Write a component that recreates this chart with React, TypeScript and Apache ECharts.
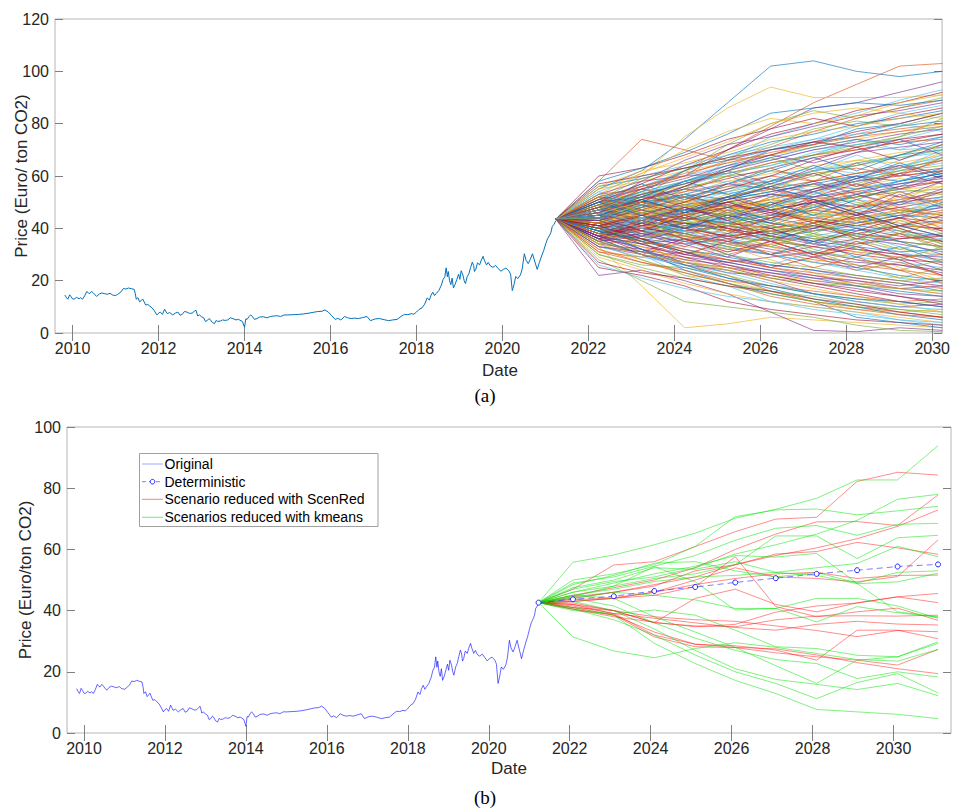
import React, { useEffect, useRef } from 'react';
import * as echarts from 'echarts';

// ---------- Data ----------
const X_TICKS = [2010, 2012, 2014, 2016, 2018, 2020, 2022, 2024, 2026, 2028, 2030];

// Historical price [decimal year, EUR/t]
const HIST: [number, number][] = [
  [2009.82, 14.5], [2009.86, 13.4], [2009.89, 12.9], [2009.93, 14.6], [2009.96, 14.0], [2010.0, 13.0],
  [2010.03, 12.9], [2010.09, 13.6], [2010.15, 13.1], [2010.19, 13.5], [2010.23, 12.9], [2010.28, 14.2],
  [2010.33, 15.9], [2010.37, 15.2], [2010.4, 15.1], [2010.44, 15.9], [2010.48, 15.3], [2010.52, 14.6],
  [2010.56, 14.0], [2010.62, 14.9], [2010.68, 15.3], [2010.75, 15.0], [2010.81, 14.8], [2010.87, 15.2],
  [2010.93, 14.5], [2011.0, 14.3], [2011.05, 14.8], [2011.12, 15.6], [2011.18, 17.0], [2011.24, 16.8],
  [2011.3, 17.2], [2011.37, 16.9], [2011.43, 16.7], [2011.46, 15.0], [2011.48, 12.9], [2011.52, 13.5],
  [2011.56, 11.9], [2011.59, 12.3], [2011.63, 13.0], [2011.7, 10.7], [2011.75, 10.9], [2011.8, 10.2],
  [2011.85, 9.6], [2011.9, 8.5], [2011.96, 6.9], [2012.0, 7.6], [2012.04, 8.0], [2012.09, 7.1],
  [2012.14, 9.1], [2012.2, 7.4], [2012.26, 7.8], [2012.33, 6.9], [2012.39, 7.6], [2012.45, 8.0],
  [2012.5, 6.8], [2012.55, 7.1], [2012.6, 8.2], [2012.66, 8.0], [2012.72, 7.5], [2012.78, 7.6],
  [2012.83, 8.3], [2012.87, 8.7], [2012.91, 6.5], [2012.95, 6.9], [2013.0, 6.2], [2013.05, 5.8],
  [2013.09, 4.4], [2013.13, 4.7], [2013.17, 5.5], [2013.2, 5.2], [2013.25, 4.0], [2013.3, 3.6],
  [2013.34, 4.8], [2013.38, 4.4], [2013.44, 4.6], [2013.49, 5.0], [2013.55, 4.8], [2013.61, 5.0],
  [2013.67, 5.8], [2013.73, 5.5], [2013.8, 5.0], [2013.86, 5.2], [2013.95, 4.4], [2014.0, 2.2],
  [2014.03, 5.4], [2014.06, 5.2], [2014.1, 6.2], [2014.14, 6.9], [2014.18, 6.4], [2014.23, 5.2],
  [2014.29, 5.5], [2014.35, 6.1], [2014.44, 6.2], [2014.52, 5.8], [2014.6, 6.3], [2014.68, 6.5],
  [2014.76, 6.6], [2014.84, 6.3], [2014.92, 6.9], [2015.01, 6.9], [2015.13, 7.0], [2015.26, 7.1],
  [2015.38, 7.3], [2015.5, 7.6], [2015.6, 7.9], [2015.7, 8.2], [2015.8, 8.3], [2015.87, 8.8],
  [2015.95, 8.0], [2016.03, 6.6], [2016.11, 5.2], [2016.17, 5.6], [2016.24, 5.0], [2016.33, 6.3],
  [2016.4, 5.8], [2016.48, 5.5], [2016.56, 5.7], [2016.65, 5.5], [2016.75, 5.9], [2016.85, 6.3],
  [2016.93, 4.7], [2017.04, 5.4], [2017.14, 5.5], [2017.25, 5.1], [2017.35, 4.7], [2017.45, 5.0],
  [2017.55, 5.2], [2017.64, 6.3], [2017.72, 7.1], [2017.8, 7.0], [2017.88, 7.4], [2017.94, 7.2],
  [2018.0, 8.0], [2018.06, 9.0], [2018.13, 9.6], [2018.19, 11.0], [2018.25, 13.4], [2018.3, 12.6],
  [2018.34, 14.5], [2018.38, 15.6], [2018.42, 14.3], [2018.46, 15.1], [2018.52, 16.2], [2018.58, 18.3],
  [2018.62, 20.5], [2018.66, 21.5], [2018.69, 24.9], [2018.72, 21.5], [2018.74, 23.5], [2018.77, 20.0],
  [2018.8, 18.5], [2018.83, 21.0], [2018.86, 17.2], [2018.9, 18.6], [2018.94, 20.5], [2018.98, 22.5],
  [2019.01, 20.5], [2019.04, 23.8], [2019.08, 22.2], [2019.11, 20.0], [2019.14, 18.9], [2019.18, 21.5],
  [2019.22, 22.7], [2019.26, 25.0], [2019.3, 27.1], [2019.33, 25.8], [2019.35, 23.5], [2019.38, 24.3],
  [2019.42, 26.8], [2019.47, 26.0], [2019.5, 27.5], [2019.55, 29.3], [2019.58, 27.8], [2019.63, 26.0],
  [2019.67, 27.0], [2019.72, 25.6], [2019.78, 25.1], [2019.84, 25.8], [2019.9, 24.7], [2019.96, 23.6],
  [2020.02, 24.3], [2020.08, 24.8], [2020.15, 23.8], [2020.19, 22.5], [2020.23, 16.2], [2020.27, 18.5],
  [2020.31, 21.6], [2020.36, 20.8], [2020.42, 22.2], [2020.46, 24.5], [2020.51, 30.3], [2020.55, 27.8],
  [2020.6, 26.5], [2020.65, 28.2], [2020.7, 30.3], [2020.75, 27.5], [2020.81, 24.3], [2020.86, 27.0],
  [2020.92, 29.8], [2020.96, 31.5], [2021.01, 34.2], [2021.05, 36.0], [2021.1, 37.4], [2021.13, 38.5],
  [2021.16, 40.7], [2021.2, 41.5], [2021.24, 42.9],
];

// (a) simulated scenarios: yearly steps
const TOP_STEPS = [2021.24, 2022.24, 2023.24, 2024.24, 2025.24, 2026.24, 2027.24, 2028.24, 2029.24, 2030.24];
const TOP_START = 43.5;
const TOP_PATHS: number[][] = [
  [55, 62, 74, 88, 102, 104, 100, 98, 100], [50, 55, 62, 70, 79, 88, 95, 102, 103], [52, 60, 75, 86, 94, 90, 90, 90, 91],
  [48, 58, 60, 70, 78, 86, 88, 92, 96], [46, 52, 62, 72, 80, 85, 82, 86, 90], [42, 48, 55, 66, 75, 80, 84, 89, 93],
  [60, 63, 68, 74, 78, 82, 79, 83, 86], [44, 50, 58, 62, 70, 72, 78, 80, 84], [58, 74, 70, 66, 68, 72, 76, 78, 80],
  [33, 18, 2, 3.5, 6, 5, 4, 3, 2], [22, 24, 20, 15, 8, 1, 0.5, 2, 1], [28, 20, 12, 10, 8, 6, 3, 1, 0.5],
  [35, 30, 22, 18, 12, 10, 8, 5, 3], [25, 22, 18, 12, 9, 7, 5, 4, 3], [38, 32, 24, 19, 15, 12, 6, 4, 2],
  [40, 35, 26, 22, 16, 12, 10, 8, 6], [32, 28, 22, 20, 16, 12, 9, 8, 9], [36, 30, 26, 24, 20, 15, 12, 10, 11],
  [30, 26, 25, 22, 18, 15, 13, 11, 12], [45, 48, 50, 52, 55, 58, 60, 63, 66], [42, 44, 46, 48, 47, 50, 52, 55, 58],
  [47, 52, 55, 53, 57, 62, 64, 68, 70], [40, 38, 37, 35, 33, 30, 32, 30, 28], [44, 42, 45, 47, 50, 48, 46, 49, 51],
  [38, 36, 34, 36, 38, 40, 37, 35, 33], [50, 54, 58, 60, 62, 60, 65, 68, 72], [41, 45, 42, 40, 43, 45, 47, 44, 46],
  [46, 50, 48, 52, 56, 54, 58, 60, 62], [39, 41, 43, 45, 42, 40, 43, 46, 48], [43, 40, 38, 34, 31, 28, 26, 24, 22],
  [48, 46, 50, 55, 58, 62, 66, 65, 68], [36, 33, 30, 28, 26, 24, 22, 20, 18], [45, 47, 44, 42, 45, 48, 52, 54, 55],
  [52, 56, 60, 64, 66, 70, 72, 74, 78], [37, 40, 42, 40, 37, 35, 38, 41, 40], [44, 46, 49, 51, 54, 57, 55, 58, 61],
  [41, 39, 36, 38, 40, 42, 44, 42, 39], [49, 52, 50, 47, 44, 46, 49, 51, 53], [35, 38, 40, 43, 46, 44, 42, 45, 48],
  [46, 44, 42, 44, 41, 38, 36, 38, 35], [42, 47, 52, 56, 60, 63, 61, 64, 67], [47, 43, 40, 37, 35, 33, 30, 28, 27],
  [40, 43, 46, 50, 53, 52, 55, 57, 60], [53, 55, 52, 56, 58, 61, 63, 60, 62], [38, 35, 33, 31, 34, 37, 35, 32, 30],
  [45, 49, 53, 57, 55, 52, 54, 57, 59], [43, 45, 48, 46, 49, 52, 50, 47, 45], [39, 42, 39, 36, 33, 31, 29, 27, 25],
  [48, 51, 55, 59, 63, 67, 70, 73, 76], [44, 41, 43, 46, 44, 41, 39, 41, 43], [41, 44, 47, 45, 48, 51, 54, 52, 50],
  [46, 48, 46, 43, 40, 42, 45, 43, 41], [34, 32, 29, 27, 29, 31, 28, 26, 24], [50, 48, 51, 54, 57, 56, 59, 62, 64],
  [42, 40, 41, 43, 45, 47, 49, 47, 49], [47, 50, 52, 49, 47, 50, 53, 56, 58], [37, 34, 36, 33, 30, 27, 25, 22, 20],
  [45, 43, 40, 42, 45, 43, 41, 44, 47], [43, 46, 44, 47, 50, 53, 56, 59, 57], [40, 37, 35, 37, 39, 36, 34, 36, 38],
  [49, 47, 45, 48, 51, 49, 52, 55, 53], [44, 48, 51, 54, 52, 55, 59, 62, 65], [38, 40, 38, 41, 44, 47, 45, 48, 51],
  [46, 42, 39, 41, 38, 35, 33, 31, 32], [42, 44, 42, 39, 41, 44, 46, 48, 46], [51, 53, 56, 58, 61, 64, 66, 69, 71],
  [36, 38, 35, 32, 30, 33, 36, 34, 31], [45, 46, 48, 50, 49, 46, 44, 46, 49], [41, 38, 40, 38, 35, 37, 40, 38, 36],
  [48, 50, 47, 50, 53, 51, 48, 50, 52], [39, 36, 32, 29, 26, 24, 21, 19, 16], [47, 51, 54, 57, 60, 58, 61, 63, 66],
  [43, 41, 44, 41, 43, 45, 43, 40, 42], [35, 37, 41, 44, 47, 50, 48, 51, 54], [50, 46, 44, 41, 39, 36, 38, 35, 33],
  [44, 47, 45, 42, 45, 48, 51, 49, 52], [40, 42, 45, 48, 51, 55, 58, 61, 63], [46, 44, 47, 45, 42, 39, 41, 39, 37],
  [42, 39, 37, 34, 36, 33, 31, 29, 30], [55, 58, 62, 65, 68, 71, 74, 77, 80], [33, 30, 27, 25, 23, 20, 18, 15, 14],
  [49, 53, 57, 61, 64, 68, 71, 75, 82], [45, 43, 46, 49, 47, 44, 47, 50, 48], [38, 41, 44, 42, 40, 43, 41, 44, 42],
  [56, 59, 63, 66, 70, 73, 75, 79, 81], [31, 29, 31, 28, 25, 22, 20, 17, 15], [43, 47, 50, 48, 51, 54, 57, 55, 56],
  [47, 45, 42, 40, 37, 34, 32, 30, 29], [40, 44, 48, 52, 56, 60, 64, 67, 70], [44, 40, 36, 33, 30, 27, 24, 21, 19],
  [51, 49, 46, 49, 46, 43, 40, 37, 35], [37, 39, 42, 39, 36, 39, 42, 45, 44], [48, 52, 49, 52, 55, 58, 61, 64, 61],
  [42, 45, 48, 51, 48, 45, 48, 51, 54], [45, 42, 38, 35, 32, 29, 27, 26, 23], [39, 35, 31, 30, 27, 25, 22, 20, 21],
  [46, 49, 52, 55, 58, 62, 65, 67, 69], [41, 43, 40, 37, 39, 41, 38, 36, 37], [52, 50, 53, 51, 54, 57, 60, 58, 61],
  [34, 36, 39, 41, 38, 41, 44, 47, 45], [47, 41, 49, 44, 52, 47, 55, 50, 58], [39, 45, 40, 47, 42, 50, 45, 53, 48],
  [44, 51, 46, 41, 48, 43, 37, 43, 38], [50, 44, 38, 44, 50, 45, 40, 46, 52], [36, 42, 48, 43, 37, 42, 48, 54, 49],
  [43, 37, 42, 36, 30, 35, 29, 33, 27], [48, 55, 50, 57, 63, 58, 65, 60, 67], [41, 47, 53, 48, 55, 61, 56, 63, 69],
  [45, 39, 34, 29, 35, 30, 25, 29, 24], [42, 48, 43, 38, 33, 38, 44, 39, 34], [54, 49, 56, 61, 55, 62, 68, 63, 70],
  [37, 31, 36, 30, 25, 29, 33, 28, 22], [46, 52, 58, 53, 48, 54, 49, 44, 50], [40, 46, 41, 36, 41, 47, 53, 48, 43],
  [49, 43, 48, 53, 47, 42, 36, 41, 46], [44, 50, 56, 62, 57, 63, 69, 74, 68], [38, 43, 37, 32, 37, 31, 26, 21, 25],
  [47, 42, 47, 52, 58, 53, 59, 54, 49], [42, 36, 30, 35, 40, 34, 39, 44, 39], [51, 57, 51, 57, 62, 67, 62, 68, 73],
  [35, 40, 45, 39, 44, 49, 43, 38, 43], [46, 40, 45, 39, 33, 27, 31, 25, 20], [43, 49, 44, 50, 46, 52, 57, 52, 58],
  [48, 43, 37, 42, 36, 41, 46, 40, 34], [39, 44, 49, 54, 59, 54, 60, 66, 71], [45, 50, 45, 40, 35, 30, 35, 30, 26],
  [41, 35, 40, 45, 50, 45, 51, 56, 62], [52, 47, 52, 46, 52, 57, 51, 46, 40], [38, 33, 28, 33, 28, 23, 18, 22, 17],
  [47, 53, 48, 43, 49, 55, 60, 55, 60], [43, 38, 43, 48, 43, 38, 33, 38, 32], [50, 56, 62, 57, 63, 68, 74, 70, 75],
  [36, 41, 36, 31, 35, 40, 45, 40, 35], [44, 48, 53, 48, 43, 48, 53, 58, 63], [48, 42, 36, 30, 34, 29, 24, 27, 22],
  [42, 47, 42, 46, 51, 46, 41, 46, 51], [46, 41, 46, 51, 56, 61, 56, 61, 57], [40, 34, 38, 33, 37, 32, 28, 24, 28],
  [53, 48, 53, 58, 53, 48, 53, 58, 63], [37, 42, 47, 52, 47, 42, 36, 41, 37], [45, 51, 46, 52, 58, 64, 59, 65, 60],
  [41, 46, 40, 35, 30, 25, 29, 24, 19], [49, 44, 49, 44, 39, 44, 49, 54, 49], [43, 38, 33, 38, 44, 50, 45, 50, 55],
  [47, 52, 57, 62, 67, 62, 57, 62, 67], [39, 44, 39, 34, 39, 34, 38, 33, 29], [44, 39, 45, 50, 45, 51, 46, 41, 45],
  [50, 45, 40, 45, 40, 35, 40, 35, 30], [42, 48, 54, 60, 55, 50, 55, 61, 66], [46, 50, 45, 49, 44, 39, 43, 47, 42],
  [38, 43, 48, 44, 49, 54, 59, 64, 59], [48, 54, 49, 44, 38, 42, 37, 32, 36], [44, 40, 35, 30, 26, 31, 36, 31, 27],
  [41, 45, 50, 55, 60, 66, 71, 66, 72], [47, 51, 46, 51, 56, 51, 46, 41, 37], [35, 30, 35, 40, 35, 30, 34, 38, 33],
  [52, 46, 51, 45, 49, 43, 47, 52, 56], [43, 47, 43, 48, 53, 58, 53, 49, 54], [40, 36, 41, 46, 41, 37, 32, 28, 33],
  [46, 42, 47, 42, 48, 53, 58, 63, 68],
  [50, 57, 64, 70, 76, 80, 85, 88, 92], [36, 30, 25, 21, 17, 13, 10, 7, 5], [47, 55, 60, 66, 71, 77, 82, 86, 89],
  [38, 33, 28, 24, 20, 17, 14, 11, 8], [53, 58, 66, 72, 75, 79, 83, 85, 88], [34, 28, 23, 19, 16, 14, 11, 9, 7],
  [45, 53, 58, 64, 70, 74, 79, 84, 87], [40, 34, 29, 25, 21, 18, 15, 12, 10], [49, 54, 62, 68, 73, 76, 80, 82, 85],
  [31, 27, 24, 20, 18, 16, 14, 12, 13], [55, 61, 67, 73, 80, 84, 86, 84, 82], [37, 32, 27, 23, 22, 19, 17, 14, 12],
  [51, 59, 63, 67, 72, 78, 81, 79, 83], [33, 29, 26, 23, 19, 15, 12, 10, 9], [46, 51, 56, 63, 68, 73, 77, 80, 84],
  [39, 35, 31, 27, 24, 21, 18, 16, 14], [52, 56, 61, 65, 69, 72, 75, 77, 79], [29, 24, 19, 15, 12, 10, 8, 6, 4],
  [48, 53, 57, 62, 66, 70, 73, 76, 78], [35, 31, 27, 24, 21, 19, 18, 17, 16], [54, 60, 64, 68, 71, 74, 76, 80, 77],
  [41, 36, 31, 26, 22, 19, 16, 14, 11], [50, 52, 58, 63, 67, 71, 74, 72, 75], [32, 27, 23, 19, 14, 11, 9, 7, 6],
  [56, 62, 65, 69, 74, 77, 79, 82, 84], [37, 34, 30, 27, 24, 22, 19, 17, 18], [44, 49, 55, 60, 65, 68, 72, 75, 79],
  [26, 21, 17, 14, 12, 9, 7, 5, 4], [57, 60, 63, 67, 70, 73, 71, 74, 76], [39, 32, 26, 21, 18, 15, 13, 12, 10],
  [49, 56, 60, 61, 65, 68, 70, 73, 74], [34, 30, 27, 25, 22, 20, 19, 17, 15], [51, 55, 59, 64, 68, 65, 69, 71, 73],
  [30, 25, 21, 18, 15, 12, 10, 9, 8], [47, 54, 58, 61, 64, 69, 72, 70, 71], [27, 23, 21, 18, 16, 13, 11, 8, 6],
  [58, 63, 69, 76, 84, 86, 88, 87, 89], [38, 35, 32, 28, 25, 23, 21, 19, 17], [53, 61, 70, 77, 82, 80, 83, 88, 91],
  [33, 31, 28, 26, 23, 21, 20, 18, 20],
];

// (b) reduced scenarios
const BOT_STEPS = [2021.23, 2022.08, 2023.09, 2024.09, 2025.1, 2026.09, 2027.09, 2028.1, 2029.1, 2030.1, 2031.1];
const BOT_START = 42.6;
const DETERMINISTIC = [42.6, 43.7, 44.7, 46.4, 47.7, 49.2, 50.6, 52.0, 53.2, 54.4, 55.1];
const KMEANS: number[][] = [
  [55.8, 58.2, 61.5, 65.3, 70.2, 73.1, 76.7, 82.7, 82.7, 93.9],
  [50, 52, 55, 61, 70.7, 72.9, 73.2, 71.3, 72.6, 74.1],
  [49, 51, 54.5, 58, 63, 66.9, 67.8, 64.6, 68.2, 68.5],
  [47, 49.5, 51, 54, 58.5, 61.5, 65, 69.5, 76.4, 78.0],
  [46, 48, 50.5, 52, 55, 64.4, 64.4, 57, 63.8, 64.6],
  [47.5, 50, 54, 53.5, 56, 52.5, 51.5, 48.8, 49.4, 52.2],
  [45, 47, 49.5, 51, 51.5, 52.5, 54, 55.4, 61, 57.6],
  [46, 49, 52, 54.5, 58, 57.5, 58.7, 48.9, 39.6, 38.0],
  [44.5, 48, 54.4, 49.4, 40.2, 40.7, 36.3, 41.3, 39.3, 37.8],
  [40, 39, 40.2, 38.5, 33.6, 28.2, 27.6, 25.4, 24.9, 29.3],
  [31.4, 26.8, 24.6, 27.6, 29.5, 28, 26, 24, 23.5, 27.3],
  [41, 38.5, 29.3, 22.7, 17.2, 12.9, 7.7, 6.9, 6.1, 4.7],
  [40.5, 37, 32, 25.5, 20, 16.2, 11.2, 16.5, 19.4, 13.1],
  [43, 40, 34, 27, 21, 17.5, 15.9, 14.2, 16.2, 12.2],
  [44, 41.5, 36, 31, 27, 24, 22.7, 17.8, 20, 18.3],
  [45, 44, 38, 33, 28, 22, 16.2, 23.8, 24.9, 29.8],
  [44, 46, 45, 43.5, 40.7, 40.7, 44, 44, 41.5, 37.5],
  [48.5, 51.5, 55.5, 56, 53, 51, 52.5, 49, 52.5, 53.0],
];
const SCENRED: number[][] = [
  [47, 54.9, 56, 60.9, 65.8, 69.9, 70.5, 82.2, 85.2, 84.3],
  [45, 47.5, 50, 54, 60, 65, 69, 69.1, 67.8, 77.8],
  [44, 46, 48.5, 51, 55, 58, 60.5, 63.5, 67.5, 72.9],
  [43, 44, 46, 50, 54, 51, 50.5, 49.4, 51.1, 63.1],
  [44.5, 46, 48, 53, 55, 58.5, 59.3, 62.3, 60.5, 58.4],
  [43, 44, 45, 47.8, 57.6, 41.3, 38.0, 39.6, 40.8, 36.8],
  [43.5, 44.2, 46, 48.5, 50.5, 52, 52.5, 50.5, 51.5, 51.6],
  [41, 40, 36.1, 44, 47, 42, 39.6, 42.5, 44.5, 45.6],
  [40.5, 38, 36.2, 34.7, 35.5, 39.5, 41.5, 42.5, 44.5, 42.6],
  [42.5, 40, 36, 35, 34.7, 37, 38.2, 38.3, 38.2, 38.5],
  [41.5, 39, 37.5, 36, 34.5, 33.6, 35.5, 36.5, 35.6, 35.3],
  [40.5, 38.5, 33, 29, 28.5, 27.1, 23.8, 33.6, 33.6, 30.8],
  [41, 38.6, 31.4, 28.2, 27.9, 26.2, 24.9, 23.8, 22.2, 27.3],
  [42, 39, 32, 29, 28, 27.5, 25.5, 23, 21, 19.4],
  [42, 40, 38, 37, 36.5, 35, 33.5, 31.5, 33.5, 33.1],
];

const MATLAB_COLORS = ['#0072BD', '#D95319', '#EDB120', '#7E2F8E', '#77AC30', '#4DBEEE', '#A2142F'];
const FONT = '"Liberation Sans", Arial, Helvetica, sans-serif';
const TXT = '#262626';

function xAxes(grid: number, min: number, max: number) {
  const base = {
    gridIndex: grid, type: 'value', min, max,
    axisLine: { show: false }, splitLine: { show: false },
    axisTick: { show: true, inside: true, length: 8, customValues: X_TICKS, lineStyle: { color: '#808080', width: 1 } },
  };
  return [
    { ...base, position: 'bottom',
      axisLabel: { show: true, customValues: X_TICKS, formatter: (v: number) => String(v), fontSize: 16, color: TXT, fontFamily: FONT, margin: 7 } },
    { ...base, position: 'top', axisLabel: { show: false } },
  ];
}
function yAxes(grid: number, max: number) {
  const base = {
    gridIndex: grid, type: 'value', min: 0, max, interval: 20,
    axisLine: { show: false }, splitLine: { show: false },
    axisTick: { show: true, inside: true, length: 8, lineStyle: { color: '#808080', width: 1 } },
  };
  return [
    { ...base, position: 'left', axisLabel: { show: true, fontSize: 16, color: TXT, fontFamily: FONT, margin: 6 } },
    { ...base, position: 'right', axisLabel: { show: false } },
  ];
}

function buildOption() {
  const series: any[] = [];
  series.push({
    type: 'line', xAxisIndex: 0, yAxisIndex: 0, data: HIST, symbol: 'none', silent: true,
    lineStyle: { color: '#0072BD', width: 1 }, z: 2,
  });
  TOP_PATHS.forEach((p, i) => {
    series.push({
      type: 'line', xAxisIndex: 0, yAxisIndex: 0, symbol: 'none', silent: true,
      data: [TOP_START, ...p].map((v, k) => [TOP_STEPS[k], v]),
      lineStyle: { color: MATLAB_COLORS[i % MATLAB_COLORS.length], width: 0.75, opacity: 0.85 }, z: 3,
    });
  });
  // bottom
  series.push({
    type: 'line', xAxisIndex: 2, yAxisIndex: 2, data: HIST, symbol: 'none', silent: true,
    lineStyle: { color: 'rgba(0,0,255,0.6)', width: 1 }, z: 2,
  });
  SCENRED.forEach((p) => {
    series.push({
      type: 'line', xAxisIndex: 2, yAxisIndex: 2, symbol: 'none', silent: true,
      data: [BOT_START, ...p].map((v, k) => [BOT_STEPS[k], v]),
      lineStyle: { color: 'rgba(255,0,0,0.45)', width: 1 }, z: 3,
    });
  });
  KMEANS.forEach((p) => {
    series.push({
      type: 'line', xAxisIndex: 2, yAxisIndex: 2, symbol: 'none', silent: true,
      data: [BOT_START, ...p].map((v, k) => [BOT_STEPS[k], v]),
      lineStyle: { color: 'rgba(0,230,0,0.5)', width: 1 }, z: 4,
    });
  });
  series.push({
    type: 'line', xAxisIndex: 2, yAxisIndex: 2, silent: true,
    data: DETERMINISTIC.map((v, k) => [BOT_STEPS[k], v]),
    symbol: 'circle', symbolSize: 5, showSymbol: true,
    itemStyle: { color: '#fff', borderColor: '#2020ff', borderWidth: 1 },
    lineStyle: { color: 'rgba(40,40,255,0.6)', width: 1, type: [6, 4] }, z: 6,
  });

  const legendRows = [
    { y: 464, label: 'Original' },
    { y: 481.7, label: 'Deterministic' },
    { y: 499.3, label: 'Scenario reduced with ScenRed' },
    { y: 517.3, label: 'Scenarios reduced with kmeans' },
  ];
  const graphic: any[] = [
    { type: 'text', x: 21, y: 176, rotation: Math.PI / 2, style: { text: 'Price (Euro/ ton CO2)', fontSize: 17, fill: TXT, fontFamily: FONT, align: 'center', verticalAlign: 'middle' } },
    { type: 'text', x: 500, y: 370, style: { text: 'Date', fontSize: 17, fill: TXT, fontFamily: FONT, align: 'center', verticalAlign: 'middle' } },
    { type: 'text', x: 485, y: 395, style: { text: '(a)', fontSize: 19, fill: '#000', fontFamily: '"Liberation Serif", "DejaVu Serif", serif', align: 'center', verticalAlign: 'middle' } },
    { type: 'text', x: 25, y: 580, rotation: Math.PI / 2, style: { text: 'Price (Euro/ton CO2)', fontSize: 17, fill: TXT, fontFamily: FONT, align: 'center', verticalAlign: 'middle' } },
    { type: 'text', x: 509, y: 768, style: { text: 'Date', fontSize: 17, fill: TXT, fontFamily: FONT, align: 'center', verticalAlign: 'middle' } },
    { type: 'text', x: 485, y: 797, style: { text: '(b)', fontSize: 19, fill: '#000', fontFamily: '"Liberation Serif", "DejaVu Serif", serif', align: 'center', verticalAlign: 'middle' } },
    { type: 'rect', z: 100, shape: { x: 139.5, y: 453.5, width: 238.5, height: 73 }, style: { fill: '#fff', stroke: '#a0a0a0', lineWidth: 1 } },
    { type: 'line', z: 101, shape: { x1: 142, y1: 464, x2: 163, y2: 464 }, style: { stroke: 'rgba(0,0,255,0.35)', lineWidth: 1 } },
    { type: 'line', z: 101, shape: { x1: 142, y1: 481.7, x2: 163, y2: 481.7 }, style: { stroke: 'rgba(40,40,255,0.6)', lineWidth: 1, lineDash: [4, 3] } },
    { type: 'circle', z: 102, shape: { cx: 152.5, cy: 481.7, r: 2.3 }, style: { fill: '#fff', stroke: '#2020ff', lineWidth: 1 } },
    { type: 'line', z: 101, shape: { x1: 142, y1: 499.3, x2: 163, y2: 499.3 }, style: { stroke: 'rgba(255,0,0,0.5)', lineWidth: 1 } },
    { type: 'line', z: 101, shape: { x1: 142, y1: 517.3, x2: 163, y2: 517.3 }, style: { stroke: 'rgba(0,230,0,0.6)', lineWidth: 1 } },
    ...legendRows.map((r) => ({
      type: 'text', z: 101, x: 164.5, y: r.y,
      style: { text: r.label, fontSize: 14, fill: '#000', fontFamily: FONT, align: 'left', verticalAlign: 'middle' },
    })),
  ];

  return {
    animation: false,
    backgroundColor: '#fff',
    grid: [
      { left: 55, top: 19, width: 889, height: 314, show: true, borderColor: '#b5b5b5', borderWidth: 1, containLabel: false },
      { left: 67, top: 427, width: 884, height: 306, show: true, borderColor: '#b5b5b5', borderWidth: 1, containLabel: false },
    ],
    xAxis: [...xAxes(0, 2009.59, 2030.23), ...xAxes(1, 2009.58, 2031.42)],
    yAxis: [...yAxes(0, 120), ...yAxes(1, 100)],
    series,
    graphic,
  };
}

export default function App() {
  const ref = useRef<HTMLDivElement>(null);
  useEffect(() => {
    if (!ref.current) return;
    const chart = echarts.init(ref.current, undefined, { renderer: 'svg' });
    chart.setOption(buildOption() as any);
    return () => chart.dispose();
  }, []);
  return (
    <div
      ref={ref}
      style={{ position: 'fixed', left: 0, top: 0, width: 953, height: 808, background: '#fff' }}
    />
  );
}
